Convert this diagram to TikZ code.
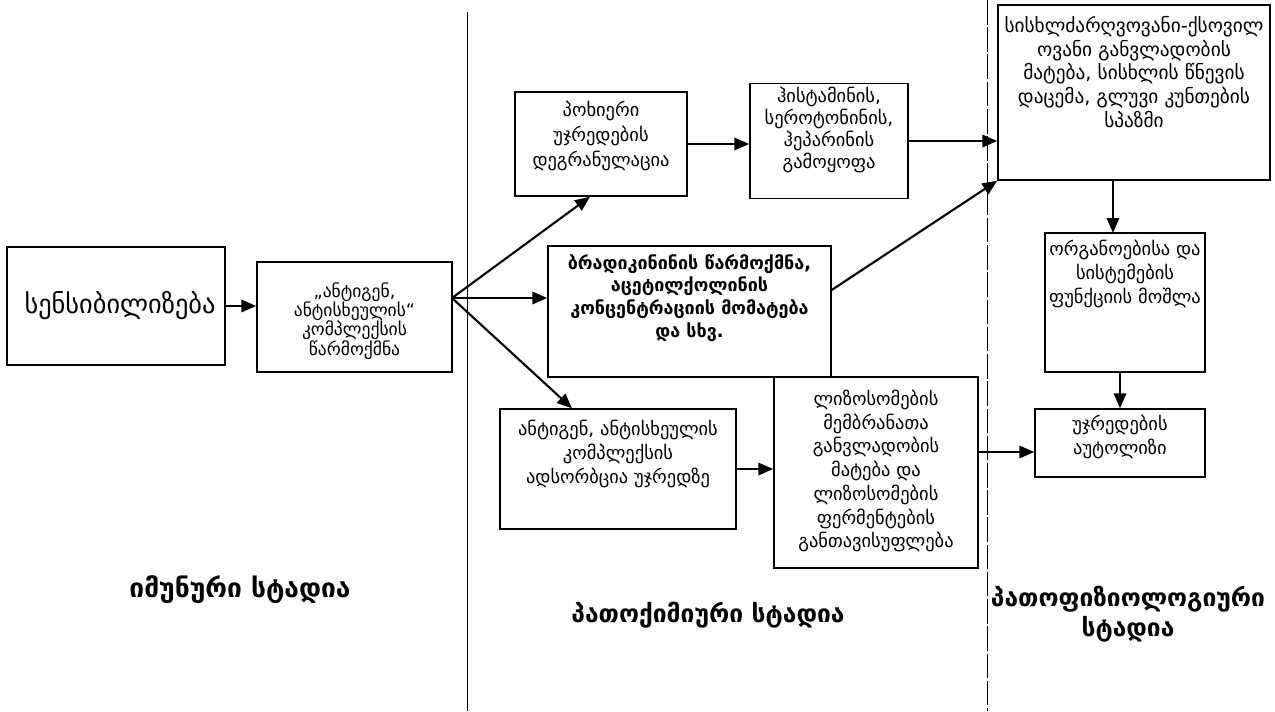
\documentclass[tikz,border=0pt]{standalone}
\usepackage{fontspec}
\setmainfont{DejaVu Sans}
\usetikzlibrary{arrows.meta}

\tikzset{
  box/.style={draw, line width=0.8pt, inner sep=0pt},
  txt/.style={align=center, inner sep=0pt, font=\fontsize{10.5}{13.5}\selectfont},
  stage/.style={align=center, inner sep=0pt, font=\fontsize{14}{17}\selectfont\bfseries},
  link/.style={draw, line width=1.2pt, ->},
}

\begin{document}
\begin{tikzpicture}[x=0.02cm, y=-0.02cm, >={Triangle[length=8.5pt,width=7pt]}]
\useasboundingbox (0,0) rectangle (1275,711);

% stage borders
\draw[line width=0.4pt] (467,12) -- (467,711);
\draw[line width=0.5pt, dash pattern=on 14pt off 1.5pt] (987,0) -- (987,711);

% boxes
\node[box, minimum width=4.36cm, minimum height=2.36cm] (sens) at (116,306) {};
\node[box, minimum width=3.9cm, minimum height=2.2cm] (compl) at (354.5,317) {};
\node[box, minimum width=3.44cm, minimum height=2.08cm] (degr) at (601,144) {};
\node[box, minimum width=3.16cm, minimum height=2.3cm] (hist) at (829,141) {};
\node[box, minimum width=5.44cm, minimum height=3.5cm] (vasc) at (1134,92.5) {};
\node[box, minimum width=5.66cm, minimum height=2.62cm] (brad) at (689.5,311.5) {};
\node[box, minimum width=3.2cm, minimum height=2.78cm] (organ) at (1125,302.5) {};
\node[box, minimum width=3.4cm, minimum height=1.36cm] (autol) at (1120,443) {};
\node[box, minimum width=4.72cm, minimum height=2.4cm] (adsorb) at (618,469) {};
\node[box, minimum width=4.08cm, minimum height=3.82cm] (lyso) at (876,472.5) {};

% box texts
\node[txt, font=\fontsize{15}{18}\selectfont] (senst) at (120,306) {სენსიბილიზება};
\node[txt, font=\fontsize{10}{11}\selectfont] (complt) at (354.5,321) {„ანტიგენ,\\ანტისხეულის“\\კომპლექსის\\წარმოქმნა};
\node[txt, font=\fontsize{10.5}{14.5}\selectfont] (degrt) at (601,136) {პოხიერი\\უჯრედების\\დეგრანულაცია};
\node[txt, font=\fontsize{10.5}{12.5}\selectfont] (histt) at (829,130) {ჰისტამინის,\\სეროტონინის,\\ჰეპარინის\\გამოყოფა};
\node[txt, font=\fontsize{11}{13.5}\selectfont] (vasct) at (1134,72) {სისხლძარღვოვანი-ქსოვილ\\ოვანი განვლადობის\\მატება, სისხლის წნევის\\დაცემა, გლუვი კუნთების\\სპაზმი};
\node[txt, font=\fontsize{10.2}{13}\selectfont\bfseries] (bradt) at (689.5,298) {ბრადიკინინის წარმოქმნა,\\აცეტილქოლინის\\კონცენტრაციის მომატება\\და სხვ.};
\node[txt] (organt) at (1125,274) {ორგანოებისა და\\სისტემების\\ფუნქციის მოშლა};
\node[txt] (autolt) at (1120,437) {უჯრედების\\აუტოლიზი};
\node[txt] (adsorbt) at (618,454) {ანტიგენ, ანტისხეულის\\კომპლექსის\\ადსორბცია უჯრედზე};
\node[txt] (lysot) at (876,471) {ლიზოსომების\\მემბრანათა\\განვლადობის\\მატება და\\ლიზოსომების\\ფერმენტების\\განთავისუფლება};

% stage names
\node[stage, font=\fontsize{15}{18}\selectfont\bfseries] (immun) at (240,590) {იმუნური სტადია};
\node[stage] (chem) at (708,615) {პათოქიმიური სტადია};
\node[stage] (phys) at (1128,614) {პათოფიზიოლოგიური\\სტადია};

% connectors
\coordinate (split) at (452,298);
\coordinate (eg) at (1113,233);
\path[link] (sens.east) -- (sens.east -| compl.west);
\path[link] (split) -- ([xshift=-0.22cm]degr.south);
\path[link] (split) -- (split -| brad.west);
\path[link] (split) -- ([xshift=-0.92cm]adsorb.north);
\path[link] (degr.east) -- (degr.east -| hist.west);
\path[link] (hist.east) -- (hist.east -| vasc.west);
\path[link] ([yshift=0.43cm]brad.east) -- (vasc.south west);
\path[link] (eg |- vasc.south) -- (eg);
\path[link] (organ.south -| autol.north) -- (autol.north);
\path[link] (adsorb.east) -- (adsorb.east -| lyso.west);
\path[link] ([yshift=-0.18cm]autol.west -| lyso.east) -- ([yshift=-0.18cm]autol.west);
\end{tikzpicture}
\end{document}
